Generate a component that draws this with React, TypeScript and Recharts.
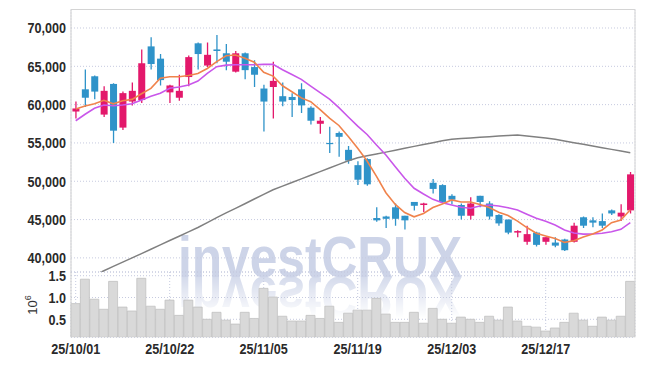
import React from "react";
import { ComposedChart, Bar, Line, XAxis, YAxis, CartesianGrid } from "recharts";

const dates = [
  "25/10/01", "25/10/02", "25/10/10", "25/10/13", "25/10/14", "25/10/15", "25/10/16", "25/10/17", "25/10/20", "25/10/21",
  "25/10/22", "25/10/23", "25/10/24", "25/10/27", "25/10/28", "25/10/29", "25/10/30", "25/10/31", "25/11/03", "25/11/04",
  "25/11/05", "25/11/06", "25/11/07", "25/11/10", "25/11/11", "25/11/12", "25/11/13", "25/11/14", "25/11/17", "25/11/18",
  "25/11/19", "25/11/20", "25/11/21", "25/11/24", "25/11/25", "25/11/26", "25/11/27", "25/11/28", "25/12/01", "25/12/02",
  "25/12/03", "25/12/04", "25/12/05", "25/12/08", "25/12/09", "25/12/10", "25/12/11", "25/12/12", "25/12/15", "25/12/16",
  "25/12/17", "25/12/18", "25/12/19", "25/12/22", "25/12/23", "25/12/24", "25/12/26", "25/12/29", "25/12/30", "26/01/02",
];

const opens = [
  59100, 62000, 63700, 58700, 62700, 57000, 60400, 60600, 67600, 66000,
  61600, 60900, 63600, 68000, 65100, 67200, 66700, 64300, 66700, 64900,
  62100, 62300, 61100, 61000, 62000, 59600, 57500, 55000, 56300, 54100,
  52100, 52900, 45200, 45400, 46600, 45500, 47300, 46900, 49800, 49500,
  48100, 46900, 45500, 48100, 47100, 45600, 45000, 43300, 42100, 43300,
  42100, 42000, 42400, 42100, 45300, 44900, 44800, 46200, 45400, 46200,
];
const highs = [
  60400, 64600, 63800, 62400, 62800, 61700, 62900, 67200, 68800, 66600,
  62600, 63900, 66400, 68100, 68100, 69100, 67900, 67000, 66800, 65800,
  62600, 65600, 62900, 61500, 62800, 59800, 58400, 57100, 56500, 54600,
  52600, 53000, 46600, 45500, 47100, 45500, 47300, 47200, 50300, 49600,
  48300, 47100, 47900, 48100, 47400, 45700, 45000, 43600, 44200, 43400,
  42700, 42700, 42500, 44600, 45400, 45300, 45800, 46300, 47000, 51200,
];
const lows = [
  58200, 59700, 60700, 58400, 55000, 56700, 59900, 60200, 64600, 62500,
  60200, 60500, 62400, 64600, 64900, 65400, 64500, 64200, 63300, 62300,
  56500, 58200, 59800, 58400, 58900, 57400, 56200, 53700, 53200, 52300,
  49500, 49400, 44700, 43900, 44200, 43700, 46200, 46000, 48400, 47200,
  47000, 45000, 45000, 46600, 45000, 44200, 43100, 42700, 41700, 41500,
  41700, 41400, 40900, 42000, 43900, 44000, 43900, 45600, 44800, 45800,
];
const closes = [
  59500, 60900, 61700, 61800, 56600, 61500, 61800, 65400, 65300, 63200,
  62500, 61800, 66200, 66600, 66500, 67000, 65600, 66700, 64500, 63900,
  60400, 63100, 60400, 60600, 59900, 57900, 57900, 54900, 55800, 52700,
  50200, 49600, 44900, 45100, 45100, 44900, 46800, 47100, 49000, 47300,
  47600, 45500, 47100, 47300, 45400, 44500, 43300, 43500, 43100, 41700,
  42700, 41600, 41000, 44200, 44200, 44600, 44200, 45800, 45900, 50900,
];

const ma5 = [
  59430, 59820, 60120, 60560, 60100, 60500, 60680, 61420, 62120, 63440,
  63640, 63640, 63800, 64060, 64720, 65620, 66380, 66480, 66060, 65540,
  64220, 63720, 62460, 61680, 60880, 60380, 59340, 58240, 57280, 55840,
  54300, 52640, 50640, 48500, 46980, 45920, 45360, 45800, 46580, 47020,
  47560, 47300, 47300, 46960, 46580, 45960, 45520, 44800, 43960, 43220,
  42860, 42520, 42020, 42240, 42740, 43120, 43640, 44600, 44940, 46280,
];
const ma20 = [
  57900, 58740, 59520, 59950, 59860, 59950, 60120, 60600, 61090, 61480,
  62130, 62300, 62560, 63080, 64090, 64950, 65150, 65200, 65200, 65200,
  65250, 65250, 64560, 63940, 63290, 62420, 61570, 60710, 59610, 58390,
  57190, 56100, 54730, 53430, 51900, 50390, 49080, 48340, 47640, 47200,
  46900, 46600, 46470, 46770, 46900, 46770, 46550, 46250, 45700, 45170,
  44780, 44300, 43640, 43250, 43100, 43120, 43210, 43420, 43730, 44600,
];
const ma60 = [
  36620, 37180, 37740, 38320, 38890, 39440, 40000, 40560, 41130, 41690,
  42270, 42830, 43390, 43970, 44610, 45260, 45870, 46470, 47070, 47680,
  48280, 48890, 49360, 49830, 50310, 50780, 51260, 51730, 52200, 52670,
  53070, 53320, 53570, 53800, 54050, 54300, 54550, 54800, 55030, 55280,
  55490, 55570, 55650, 55740, 55810, 55890, 55970, 56020, 55900, 55780,
  55660, 55480, 55250, 55030, 54820, 54600, 54380, 54160, 53940, 53710,
];

// volume in millions of shares
const volumes = [
  0.86, 1.42, 0.96, 0.73, 1.37, 0.78, 0.69, 1.44, 0.8, 0.73,
  0.94, 0.59, 0.94, 0.78, 0.5, 0.66, 0.48, 0.39, 0.66, 0.52,
  1.21, 1.01, 0.57, 0.46, 0.46, 0.59, 0.52, 0.8, 0.43, 0.64,
  0.71, 0.71, 0.98, 0.62, 0.43, 0.43, 0.66, 0.41, 0.75, 0.5,
  0.41, 0.55, 0.5, 0.43, 0.57, 0.48, 0.78, 0.46, 0.34, 0.32,
  0.23, 0.3, 0.43, 0.64, 0.48, 0.34, 0.55, 0.48, 0.57, 1.37,
];

const dateTicks = ["25/10/01", "25/10/22", "25/11/05", "25/11/19", "25/12/03", "25/12/17"];
const priceTicks = [40000, 45000, 50000, 55000, 60000, 65000, 70000];
const volTicks = [0.5, 1.0, 1.5];

const UP = "#e3186b";
const DOWN = "#2f93c9";
const GRID = "#c6cadf";
const FONT = "'Liberation Sans', Arial, sans-serif";

const data = dates.map((date, i) => ({
  date,
  open: opens[i],
  high: highs[i],
  low: lows[i],
  close: closes[i],
  ma5: ma5[i],
  ma20: ma20[i],
  ma60: ma60[i],
  vol: volumes[i],
}));

// condensed bold tick text, the original uses a narrow font
const makeTick = (fmt: (v: any) => string, anchor: string, dy: string) => (props: any) => {
  const { x, y, payload } = props;
  return (
    <text
      x={0}
      y={0}
      dy={dy}
      textAnchor={anchor}
      transform={`translate(${x} ${y}) scale(0.84 1)`}
      fontFamily={FONT}
      fontSize={15}
      fontWeight={700}
      fill="#2a2a2a"
    >
      {fmt(payload.value)}
    </text>
  );
};

const priceTick = makeTick((v: number) => v.toLocaleString("en-US"), "end", "0.36em");
const volTick = makeTick((v: number) => v.toFixed(1), "end", "0.36em");
const dateTick = makeTick((v: string) => v, "middle", "0.71em");

const renderCandle = (props: any) => {
  const { x, y, width, height, payload } = props;
  if (x == null || y == null) return <g />;
  const top = Math.min(y, y + height);
  const h = Math.abs(height);
  const color = payload.close >= payload.open ? UP : DOWN;
  const ratio = h / Math.max(payload.high - payload.low, 1);
  const cx = x + width / 2;
  const bodyTop = top + (payload.high - Math.max(payload.open, payload.close)) * ratio;
  const bodyH = Math.max(Math.abs(payload.open - payload.close) * ratio, 1.2);
  return (
    <g>
      <line x1={cx} x2={cx} y1={top} y2={top + h} stroke={color} strokeWidth={1.3} />
      <rect x={cx - 3.5} y={bodyTop} width={7} height={bodyH} fill={color} />
    </g>
  );
};

export default function App() {
  return (
    <div style={{ position: "absolute", left: 0, top: 0, width: 645, height: 366, background: "#fff" }}>
      {/* watermark with its reflection */}
      <svg width={645} height={366} style={{ position: "absolute", left: 0, top: 0 }}>
        <defs>
          <linearGradient id="fade" gradientUnits="userSpaceOnUse" x1={0} y1={277} x2={0} y2={318}>
            <stop offset="0" stopColor="#fff" stopOpacity={0.85} />
            <stop offset="1" stopColor="#fff" stopOpacity={0} />
          </linearGradient>
          <mask id="reflMask" maskUnits="userSpaceOnUse" x={0} y={0} width={645} height={366}>
            <rect x={0} y={277} width={645} height={45} fill="url(#fade)" />
          </mask>
        </defs>
        <text
          x={178}
          y={277}
          textLength={284}
          lengthAdjust="spacingAndGlyphs"
          fontFamily={FONT}
          fontWeight={700}
          fontSize={58}
          fill="#cdd4e8"
        >
          investCRUX
        </text>
        <g mask="url(#reflMask)">
          <text
            x={178}
            y={277}
            textLength={284}
            lengthAdjust="spacingAndGlyphs"
            fontFamily={FONT}
            fontWeight={700}
            fontSize={58}
            fill="#cdd4e8"
            transform="translate(0 554) scale(1 -1)"
          >
            investCRUX
          </text>
        </g>
      </svg>

      <div style={{ position: "absolute", left: 0, top: 0 }}>
        <ComposedChart width={645} height={273} data={data} margin={{ top: 9.5, right: 10, left: 0, bottom: 1 }}>
          <CartesianGrid stroke={GRID} strokeDasharray="1 2" />
          <XAxis dataKey="date" ticks={dateTicks} interval={0} height={0} tick={false} tickLine={false} stroke="#cfcfcf" />
          <YAxis
            width={71}
            domain={[38158, 72414]}
            allowDataOverflow
            ticks={priceTicks}
            interval={0}
            tickLine={false}
            tickSize={3}
            tickMargin={2}
            tick={priceTick}
            stroke="#cfcfcf"
          />
          <Bar dataKey={(d: any) => [d.low, d.high]} shape={renderCandle} isAnimationActive={false} />
          <Line dataKey="ma60" stroke="#808080" strokeWidth={1.5} dot={false} activeDot={false} isAnimationActive={false} />
          <Line dataKey="ma20" stroke="#c957ea" strokeWidth={1.6} dot={false} activeDot={false} isAnimationActive={false} />
          <Line dataKey="ma5" stroke="#f0834c" strokeWidth={1.6} dot={false} activeDot={false} isAnimationActive={false} />
        </ComposedChart>
      </div>

      <div style={{ position: "absolute", left: 0, top: 262 }}>
        <ComposedChart width={645} height={104} data={data} barCategoryGap={0} margin={{ top: 10, right: 10, left: 0, bottom: 0 }}>
          <CartesianGrid stroke={GRID} strokeDasharray="1 2" />
          <XAxis
            dataKey="date"
            ticks={dateTicks}
            interval={0}
            height={28.7}
            tickLine={false}
            tickSize={4}
            tickMargin={2}
            tick={dateTick}
            axisLine={false}
          />
          <YAxis
            width={71}
            domain={[0.087, 1.585]}
            allowDataOverflow
            ticks={volTicks}
            interval={0}
            tickLine={false}
            tickSize={3}
            tickMargin={2}
            tick={volTick}
            stroke="#cfcfcf"
          />
          <Bar dataKey="vol" fill="#d9d9d9" stroke="#c2c2c2" strokeWidth={0.8} isAnimationActive={false} />
        </ComposedChart>
      </div>

      {/* frame and volume unit */}
      <svg width={645} height={366} style={{ position: "absolute", left: 0, top: 0, pointerEvents: "none" }}>
        <line x1={71} x2={635} y1={9.5} y2={9.5} stroke="#d4d4d4" />
        <line x1={635} x2={635} y1={9.5} y2={337.3} stroke="#d4d4d4" />
        <text
          transform="translate(37 305) rotate(-90)"
          textAnchor="middle"
          fontFamily={FONT}
          fontSize={13}
          fill="#333"
        >
          10<tspan dy={-6} fontSize={9}>6</tspan>
        </text>
      </svg>
    </div>
  );
}
